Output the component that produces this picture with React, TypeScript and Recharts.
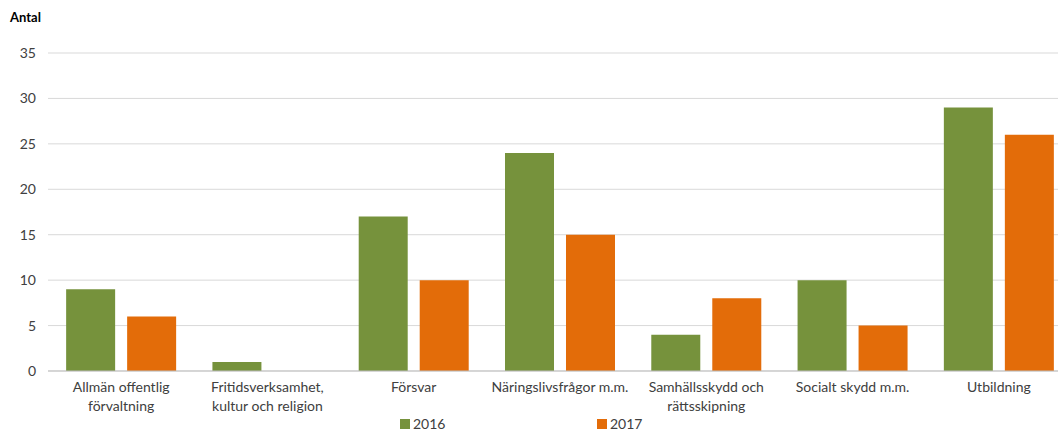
import React from 'react';
import { BarChart, Bar, XAxis, YAxis, CartesianGrid, Legend } from 'recharts';

// Categories (line breaks mark where the labels wrap in the picture)
const categories = [
  'Allmän offentlig\nförvaltning',
  'Fritidsverksamhet,\nkultur och religion',
  'Försvar',
  'Näringslivsfrågor m.m.',
  'Samhällsskydd och\nrättsskipning',
  'Socialt skydd m.m.',
  'Utbildning',
];
const values2016 = [9, 1, 17, 24, 4, 10, 29];
const values2017 = [6, 0, 10, 15, 8, 5, 26];
const yTicks = [0, 5, 10, 15, 20, 25, 30, 35];

const GREEN = '#76923C';
const ORANGE = '#E36C09';
const FONT = 'Lato, "Open Sans", sans-serif';

const data = categories.map((name, i) => ({
  name,
  y2016: values2016[i],
  y2017: values2017[i],
}));

const CategoryTick = (props: any) => {
  const { x, y, payload } = props;
  const lines = String(payload.value).split('\n');
  return (
    <g transform={`translate(${x},${y})`}>
      {lines.map((line, i) => (
        <text
          key={i}
          x={0}
          y={13 + i * 19}
          textAnchor="middle"
          fill="#404040"
          fontSize={14}
          fontFamily={FONT}
        >
          {line}
        </text>
      ))}
    </g>
  );
};

const renderLegend = () => {
  const items = [
    { label: '2016', color: GREEN, left: 400 },
    { label: '2017', color: ORANGE, left: 597 },
  ];
  return (
    <div style={{ position: 'relative', height: 20 }}>
      {items.map((it) => (
        <div
          key={it.label}
          style={{
            position: 'absolute',
            left: it.left,
            top: 2,
            height: 16,
            display: 'flex',
            alignItems: 'center',
            fontFamily: FONT,
            fontSize: 14,
            lineHeight: '16px',
            color: '#404040',
          }}
        >
          <span style={{ width: 10, height: 10, background: it.color, marginRight: 3, display: 'inline-block' }} />
          {it.label}
        </div>
      ))}
    </div>
  );
};

export default function App() {
  // the plot runs a little past the right edge of the picture, so clip it
  return (
    <div
      style={{
        position: 'absolute',
        left: 0,
        top: 0,
        width: 1058,
        height: 434,
        overflow: 'hidden',
        background: '#fff',
      }}
    >
      <div
        style={{
          position: 'absolute',
          left: 10,
          top: 9,
          fontFamily: FONT,
          fontWeight: 'bold',
          fontSize: 13,
          color: '#000',
        }}
      >
        Antal
      </div>
      <BarChart
        width={1072}
        height={434}
        data={data}
        margin={{ top: 53, right: 0, bottom: 0, left: 0 }}
        barCategoryGap="12.4%"
        barGap={12}
      >
        <CartesianGrid horizontal vertical={false} stroke="#d9d9d9" />
        <XAxis
          dataKey="name"
          interval={0}
          tick={<CategoryTick />}
          tickLine={false}
          axisLine={{ stroke: '#bfbfbf' }}
          height={43}
        />
        <YAxis
          width={48}
          domain={[0, 35]}
          ticks={yTicks}
          axisLine={false}
          tickLine={false}
          tickSize={0}
          tickMargin={12}
          tick={{ fill: '#404040', fontSize: 14, fontFamily: FONT }}
        />
        <Legend
          verticalAlign="bottom"
          height={20}
          content={renderLegend}
          wrapperStyle={{ left: 0, bottom: 0, width: 1072, height: 20 }}
        />
        <Bar dataKey="y2016" name="2016" fill={GREEN} isAnimationActive={false} />
        <Bar dataKey="y2017" name="2017" fill={ORANGE} isAnimationActive={false} />
      </BarChart>
    </div>
  );
}
